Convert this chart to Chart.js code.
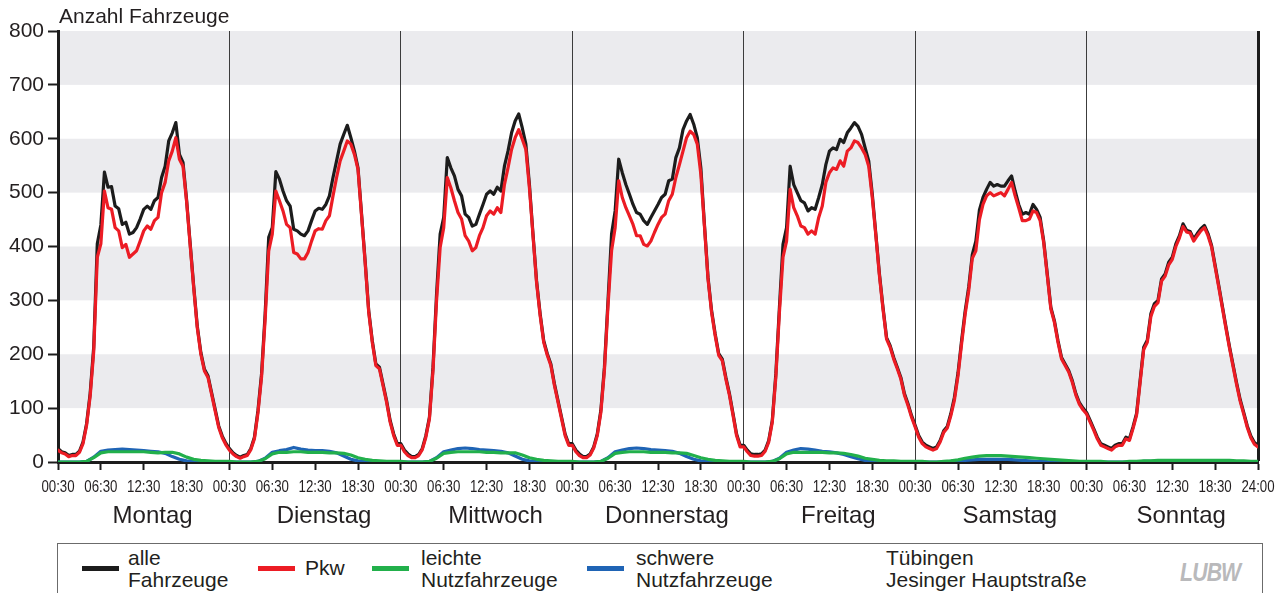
<!DOCTYPE html>
<html lang="de">
<head>
<meta charset="utf-8">
<title>Anzahl Fahrzeuge – Tübingen, Jesinger Hauptstraße</title>
<script src="https://cdn.jsdelivr.net/npm/chart.js@4.4.1/dist/chart.umd.min.js"></script>
<style>
  html, body { margin: 0; padding: 0; background: #fff; }
  body { width: 1282px; height: 593px; overflow: hidden; position: relative;
         font-family: 'Liberation Sans', Arial, sans-serif; color: #231f20; }
  #wrap { position: absolute; left: 0; top: 0; width: 1282px; height: 540px; }
  #legend { position: absolute; left: 57px; top: 543px; width: 1206px; height: 70px;
            border: 1px solid #6b6b6b; box-sizing: border-box; }
  .swatch { position: absolute; top: 22px; width: 37px; height: 5px; }
  .lbl { position: absolute; font-size: 21px; line-height: 22px; white-space: nowrap; }
  .logo { position: absolute; left: 1122px; top: 14px; font: italic bold 25px 'Liberation Sans', Arial, sans-serif;
          color: #b9b9bb; letter-spacing: -1px; transform: scaleX(0.85); transform-origin: left top; }
</style>
</head>
<body>
<div id="wrap"><canvas id="c" width="1282" height="540"></canvas></div>
<div id="legend"></div>
<script>
// Traffic counts for one week (Mo..So), half-hour resolution
const alleMo = [25,19,17,12,14,14,20,37,71,127,213,405,440,538,510,511,475,470,441,445,423,426,435,451,469,475,469,485,491,528,549,596,611,630,571,556,487,406,326,252,203,172,160,129,98,67,48,35];
const alleDi = [25,17,12,9,12,14,25,46,96,164,275,417,435,539,525,503,485,475,432,429,423,420,429,448,466,471,469,478,494,528,559,590,608,625,602,577,546,460,373,281,225,182,176,145,114,77,52,34];
const alleMi = [34,22,15,10,10,14,25,49,83,176,312,423,454,565,546,531,506,494,460,454,438,441,460,478,497,503,497,510,503,549,577,611,633,646,620,590,515,423,336,275,225,201,182,145,114,83,52,34];
const alleDo = [34,22,15,10,10,15,28,52,96,176,299,423,466,562,537,515,497,478,463,460,448,441,454,466,478,491,497,522,525,565,583,617,633,645,627,602,546,441,343,281,238,201,191,157,127,90,52,31];
const alleFr = [31,22,15,14,14,15,22,40,77,164,287,404,435,549,515,500,485,481,466,472,469,491,515,552,577,583,580,599,593,611,620,630,623,608,583,559,497,423,349,287,231,216,194,176,157,127,108,86];
const alleSa = [68,49,37,31,28,25,28,40,58,66,90,120,165,225,280,325,385,410,468,491,506,519,512,515,512,512,522,531,503,478,460,463,460,478,469,454,410,349,287,262,225,194,182,170,151,127,110,100];
const alleSo = [92,77,62,46,34,31,28,25,31,34,34,46,43,65,90,152,213,226,275,294,300,340,349,371,380,405,420,442,430,428,414,424,433,439,424,402,365,328,290,252,215,181,147,116,92,67,48,36,31];

const pkwMo = [22,17,15,10,12,12,18,34,68,122,205,380,405,503,472,469,435,429,398,404,380,386,392,410,429,438,432,448,454,500,519,559,577,602,562,549,484,403,323,249,200,169,157,126,95,64,45,32];
const pkwDi = [22,15,10,7,10,12,23,43,92,158,265,392,423,503,485,466,441,435,389,386,377,377,389,410,429,433,432,448,457,494,528,559,577,596,590,571,543,457,370,278,222,179,173,142,111,74,49,31];
const pkwMi = [31,19,12,8,8,12,23,46,80,170,300,398,435,528,509,485,463,451,420,410,392,398,420,435,457,466,460,472,463,515,546,580,602,617,599,580,509,420,333,272,222,198,179,142,111,80,49,31];
const pkwDo = [31,19,12,8,8,13,26,49,92,170,290,392,435,522,491,472,457,441,420,420,404,401,410,426,441,454,460,485,497,528,552,577,602,614,608,590,534,438,340,278,235,198,188,154,124,87,49,28];
const pkwFr = [28,19,12,11,11,12,20,37,74,158,278,380,410,506,472,457,438,435,423,429,423,454,475,519,537,546,543,559,549,577,583,596,593,583,571,549,491,420,346,284,228,213,191,173,154,124,105,83];
const pkwSa = [65,46,34,28,25,22,25,37,55,63,86,115,160,219,274,318,378,392,450,478,494,500,494,497,500,494,506,519,494,472,448,448,451,466,463,448,407,346,284,259,222,191,179,167,148,124,107,97];
const pkwSo = [89,74,59,43,31,28,25,22,28,31,31,43,40,62,87,148,209,222,270,289,296,336,345,366,376,400,416,437,427,425,410,420,429,435,420,399,362,325,287,249,212,178,144,113,89,64,45,33,28];

// Light and heavy commercial vehicles, hourly resolution
const leichteMo = [0,0,0,0,1,8,17,19,19,19,19,19,19,18,17,18,18,15,9,5,3,2,1,1];
const leichteDi = [1,0,0,0,1,6,15,18,18,19,19,18,18,18,17,17,16,13,8,5,3,2,1,1];
const leichteMi = [1,0,0,0,1,7,16,18,19,19,19,19,18,18,17,17,17,13,8,5,3,2,1,1];
const leichteDo = [1,0,0,0,1,7,16,18,19,19,19,18,18,18,17,17,16,12,8,5,3,2,1,1];
const leichteFr = [1,0,0,0,1,6,15,18,18,18,18,18,17,17,16,14,11,7,5,3,2,2,1,1];
const leichteSa = [1,1,0,0,1,2,4,7,9,11,12,12,12,11,10,9,8,7,6,5,4,3,2,1];
const leichteSo = [1,1,1,0,0,0,1,1,2,2,3,3,3,3,3,3,3,3,3,3,3,2,2,1,1];

const schwereMo = [0,0,0,0,1,9,20,22,23,24,23,22,21,20,19,16,10,5,2,1,0,0,0,0];
const schwereDi = [0,0,0,0,1,7,18,21,23,27,24,22,21,21,20,17,11,5,2,1,0,0,0,0];
const schwereMi = [0,0,0,0,1,8,19,22,25,26,25,23,22,21,20,17,11,5,2,1,0,0,0,0];
const schwereDo = [0,0,0,0,1,8,19,22,25,26,25,23,22,21,20,16,10,5,2,1,0,0,0,0];
const schwereFr = [0,0,0,0,1,7,18,22,25,24,22,20,19,17,14,10,6,3,1,0,0,0,0,0];
const schwereSa = [0,0,0,0,0,1,2,3,4,5,5,5,5,5,4,3,2,1,1,0,0,0,0,0];
const schwereSo = [0,0,0,0,0,0,0,0,1,1,1,1,1,1,1,1,1,1,1,0,0,0,0,0,0];

const dayNames = ['Montag','Dienstag','Mittwoch','Donnerstag','Freitag','Samstag','Sonntag'];
const timeTickLabels = ['00:30','06:30','12:30','18:30'];
const lastTickLabel = '24:00';
const yTicks = [0,100,200,300,400,500,600,700,800];
const shadedBands = [[100,200],[300,400],[500,600],[700,800]];
const yTitle = 'Anzahl Fahrzeuge';
const stationLines = ['Tübingen','Jesinger Hauptstraße'];

function toPoints(days, step) {
  return days.flat().map((v, i) => ({ x: i * step, y: v }));
}

const FONT = "'Liberation Sans', Arial, sans-serif";
const DAY_LABEL_HOUR = 13.25; // day names sit a little right of midday

const series = {
  alle:     { label: ['alle','Fahrzeuge'], color: '#1c1c1c', data: toPoints([alleMo,alleDi,alleMi,alleDo,alleFr,alleSa,alleSo], 0.5) },
  pkw:      { label: ['Pkw'], color: '#ec1c24', data: toPoints([pkwMo,pkwDi,pkwMi,pkwDo,pkwFr,pkwSa,pkwSo], 0.5) },
  leichte:  { label: ['leichte','Nutzfahrzeuge'], color: '#22b04b', data: toPoints([leichteMo,leichteDi,leichteMi,leichteDo,leichteFr,leichteSa,leichteSo], 1) },
  schwere:  { label: ['schwere','Nutzfahrzeuge'], color: '#1f64b5', data: toPoints([schwereMo,schwereDi,schwereMi,schwereDo,schwereFr,schwereSa,schwereSo], 1) }
};

// first dataset is painted last (on top)
const drawOrder = ['leichte','schwere','pkw','alle'];
const datasets = drawOrder.map(k => ({
  label: series[k].label.join(' '),
  data: series[k].data,
  borderColor: series[k].color,
  backgroundColor: series[k].color,
  borderWidth: 3.2,
  pointRadius: 0,
  tension: 0,
  fill: false,
  borderJoinStyle: 'round',
  borderCapStyle: 'round'
}));

function timeLabel(v) { return v === 168 ? lastTickLabel : timeTickLabels[(v % 24) / 6]; }

const bandsPlugin = {
  id: 'bands',
  beforeDraw(chart) {
    const { ctx, chartArea, scales } = chart;
    ctx.save();
    ctx.fillStyle = '#ebebee';
    shadedBands.forEach(([lo, hi]) => {
      const y1 = scales.y.getPixelForValue(hi);
      const y2 = scales.y.getPixelForValue(lo);
      ctx.fillRect(chartArea.left, y1, chartArea.right - chartArea.left, y2 - y1);
    });
    ctx.restore();
  }
};

// y-axis title and the condensed hour labels under the x ticks
const textPlugin = {
  id: 'texts',
  afterDraw(chart) {
    const { ctx, chartArea, scales } = chart;
    ctx.save();
    ctx.font = '21px ' + FONT;
    ctx.fillStyle = '#231f20';
    ctx.textBaseline = 'alphabetic';
    ctx.textAlign = 'left';
    ctx.fillText(yTitle, chartArea.left + 1, 23);

    const x = scales.x;
    ctx.font = '17px ' + FONT;
    ctx.textAlign = 'center';
    const squeeze = 0.78;
    x.ticks.forEach(t => {
      const px = x.getPixelForValue(t.value);
      ctx.save();
      ctx.translate(px, 0);
      ctx.scale(squeeze, 1);
      ctx.fillText(timeLabel(t.value), 0, 492);
      ctx.restore();
    });
    ctx.restore();
  }
};

new Chart(document.getElementById('c'), {
  type: 'line',
  data: { datasets },
  plugins: [bandsPlugin, textPlugin],
  options: {
    responsive: false,
    animation: false,
    devicePixelRatio: 1,
    layout: { padding: { top: 31, right: 24, left: 0, bottom: 0 } },
    plugins: { legend: { display: false }, tooltip: { enabled: false } },
    scales: {
      x: {
        type: 'linear', min: 0, max: 168, weight: 1,
        afterBuildTicks(scale) { scale.ticks = Array.from({ length: 29 }, (_, i) => ({ value: i * 6 })); },
        afterFit(scale) { scale.height = 38; },
        ticks: { display: false, autoSkip: false, maxRotation: 0, callback: timeLabel },
        grid: {
          drawOnChartArea: true, drawTicks: true, tickLength: 8, tickWidth: 2, tickColor: '#1c1c1c',
          color(ctx) {
            const v = ctx.tick && ctx.tick.value;
            if (v === 168) return '#1c1c1c';
            return (v > 0 && v < 168 && v % 24 === 0) ? '#3c3c3c' : 'rgba(0,0,0,0)';
          },
          lineWidth(ctx) { const v = ctx.tick && ctx.tick.value; return v === 168 ? 3 : 1; }
        },
        border: { display: true, color: '#1c1c1c', width: 3 }
      },
      days: {
        type: 'linear', position: 'bottom', min: 0, max: 168, weight: 2,
        afterBuildTicks(scale) { scale.ticks = dayNames.map((_, i) => ({ value: i * 24 + DAY_LABEL_HOUR })); },
        afterFit(scale) { scale.height = 40; },
        ticks: {
          autoSkip: false, maxRotation: 0, padding: 2, color: '#231f20',
          font: { family: FONT, size: 24 },
          callback(v) { return dayNames[Math.round((v - DAY_LABEL_HOUR) / 24)]; }
        },
        grid: { display: false, drawTicks: false },
        border: { display: false }
      },
      y: {
        min: 0, max: 800,
        afterBuildTicks(scale) { scale.ticks = yTicks.map(v => ({ value: v })); },
        afterFit(scale) { scale.width = 58; },
        ticks: { padding: 4, color: '#231f20', font: { family: FONT, size: 21 } },
        grid: { drawOnChartArea: false, drawTicks: true, tickLength: 10, tickWidth: 2, tickColor: '#1c1c1c', color: '#1c1c1c' },
        border: { display: true, color: '#1c1c1c', width: 3 }
      }
    }
  }
});

// legend row, built from the series definitions
const legend = document.getElementById('legend');
const legendPos = { alle: [24, 70], pkw: [200, 247], leichte: [314, 363], schwere: [529, 578] };
['alle','pkw','leichte','schwere'].forEach(k => {
  const [sx, tx] = legendPos[k];
  const sw = document.createElement('div');
  sw.className = 'swatch';
  sw.style.left = sx + 'px';
  sw.style.background = series[k].color;
  legend.appendChild(sw);
  const t = document.createElement('div');
  t.className = 'lbl';
  t.style.left = tx + 'px';
  t.style.top = series[k].label.length > 1 ? '3px' : '13px';
  t.innerHTML = series[k].label.join('<br>');
  legend.appendChild(t);
});
const st = document.createElement('div');
st.className = 'lbl';
st.style.left = '828px';
st.style.top = '3px';
st.innerHTML = stationLines.join('<br>');
legend.appendChild(st);
const logo = document.createElement('div');
logo.className = 'logo';
logo.textContent = 'LUBW';
legend.appendChild(logo);
</script>
</body>
</html>
